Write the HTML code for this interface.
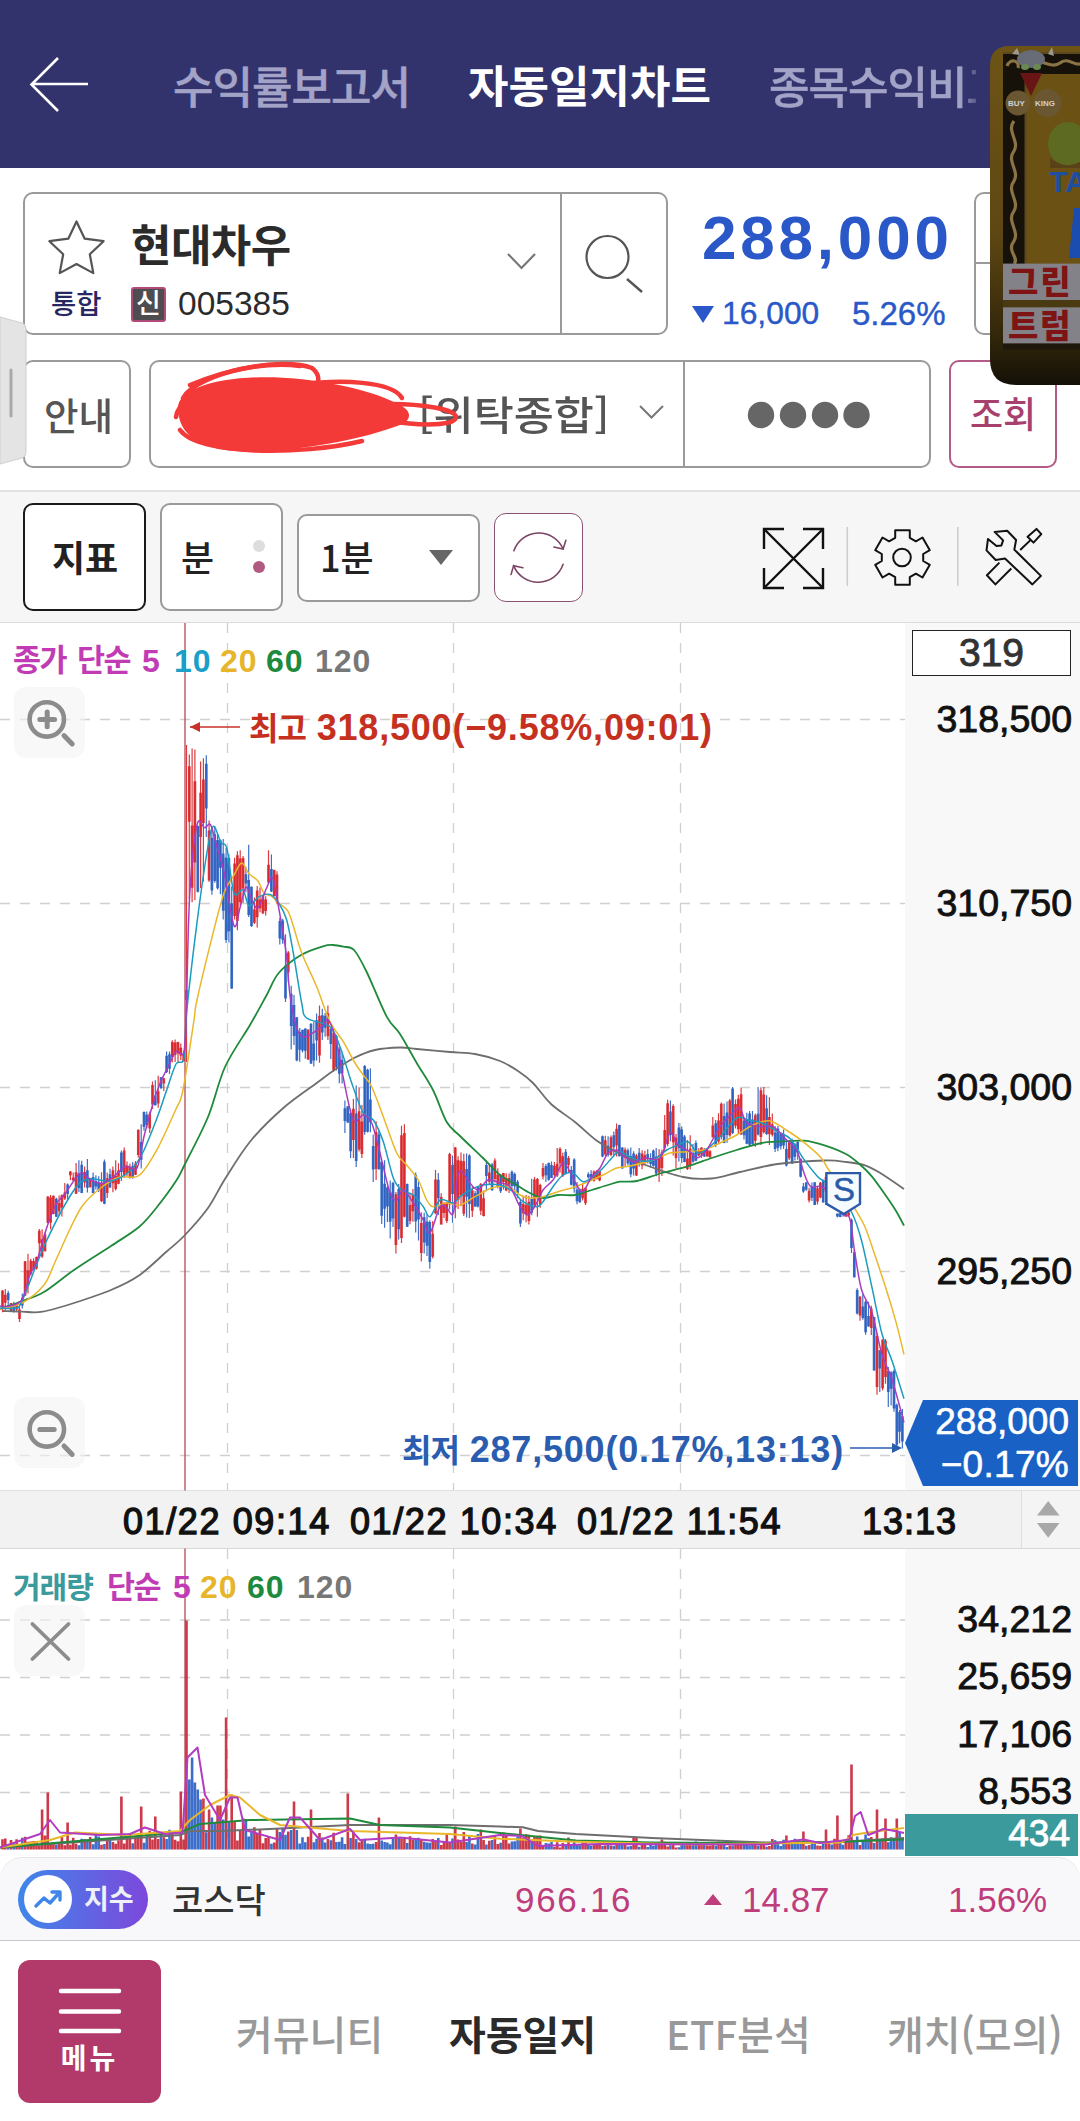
<!DOCTYPE html>
<html lang="ko"><head><meta charset="utf-8">
<style>
*{margin:0;padding:0;box-sizing:border-box}
html,body{width:1080px;height:2121px;overflow:hidden;background:#fff}
body{position:relative;font-family:"Liberation Sans","Noto Sans CJK KR",sans-serif;color:#222}
.a{position:absolute}
.k{font-family:"Noto Sans CJK KR","Liberation Sans",sans-serif}
.t{white-space:nowrap;line-height:1}
#hdr{left:0;top:0;width:1080px;height:168px;background:#32326c}
.box{border:2px solid #9a9a9a;border-radius:10px;background:#fff}
</style></head><body>
<!-- header -->
<div id="hdr" class="a"></div>
<svg class="a" style="left:0;top:0" width="120" height="168"><path d="M88 84H32M58 58L31.5 84.5L58 111" stroke="#fff" stroke-width="2.6" fill="none"/></svg>
<div class="a t k" id="tab1" style="left:173px;top:63px;font-size:44px;letter-spacing:-1px;color:#a3a3c8;font-weight:500;-webkit-text-stroke:0.5px #a3a3c8">수익률보고서</div>
<div class="a t k" id="tab2" style="left:468px;top:62px;font-size:44px;color:#fff;font-weight:700">자동일지차트</div>
<div class="a" style="left:760px;top:50px;width:216px;height:70px;overflow:hidden;-webkit-mask-image:linear-gradient(90deg,#000 200px,rgba(0,0,0,0.35) 216px)"><div class="a t k" id="tab3" style="left:9px;top:13px;font-size:44px;letter-spacing:-1px;color:#a3a3c8;font-weight:500;-webkit-text-stroke:0.5px #a3a3c8">종목수익비교</div></div>

<!-- stock box -->
<div class="a box" style="left:23px;top:192px;width:645px;height:143px"></div>
<div class="a" style="left:560px;top:194px;width:2px;height:139px;background:#9a9a9a"></div>
<!-- star -->
<svg class="a" style="left:40px;top:214px" width="74" height="66"><path d="M36.5 7.5L44.7 24.7L63.6 27.2L49.8 40.3L53.3 59.1L36.5 50.0L19.7 59.1L23.2 40.3L9.4 27.2L28.3 24.7Z" stroke="#555" stroke-width="2.2" fill="none" stroke-linejoin="round"/></svg>
<div class="a t k" style="left:131px;top:221px;font-size:44px;font-weight:700;color:#2b2b2b;letter-spacing:-0.6px">현대차우</div>
<div class="a t k" style="left:51px;top:289px;font-size:27.5px;font-weight:500;color:#272764">통합</div>
<div class="a" style="left:131px;top:287px;width:35px;height:35px;background:#4d4d4f;border:2px solid #b04a78;border-radius:3px"></div>
<div class="a t k" style="left:134px;top:288px;width:29px;text-align:center;font-size:27px;font-weight:500;color:#fff">신</div>
<div class="a t" style="left:178px;top:287px;font-size:33.5px;color:#2b2b2b">005385</div>
<svg class="a" style="left:500px;top:245px" width="44" height="32"><path d="M8 9L21.5 23L35 9" stroke="#777" stroke-width="2.2" fill="none"/></svg>
<svg class="a" style="left:580px;top:230px" width="70" height="70"><circle cx="27.5" cy="27" r="21" stroke="#555" stroke-width="2.2" fill="none"/><path d="M47 49L62 62" stroke="#555" stroke-width="2.4"/></svg>
<div class="a t" id="price" style="left:702px;top:207px;font-size:62px;font-weight:700;color:#2a58c8;letter-spacing:3.8px">288,000</div>
<svg class="a" style="left:690px;top:304px" width="26" height="20"><path d="M2 2H24L13 19Z" fill="#2a58c8"/></svg>
<div class="a t" style="left:722px;top:298px;font-size:31.8px;color:#2a58c8;-webkit-text-stroke:0.4px #2a58c8">16,000</div>
<div class="a t" style="left:852px;top:297px;font-size:33px;color:#2a58c8;-webkit-text-stroke:0.4px #2a58c8">5.26%</div>
<div class="a box" style="left:974px;top:192px;width:60px;height:143px"></div>
<div class="a" style="left:975px;top:262px;width:40px;height:1.5px;background:#9a9a9a"></div>

<!-- row2 -->
<div class="a box" style="left:23px;top:360px;width:108px;height:108px"></div>
<div class="a t k" style="left:44px;top:395px;font-size:37.5px;font-weight:500;color:#555">안내</div>
<div class="a box" style="left:149px;top:360px;width:782px;height:108px"></div>
<div class="a" style="left:683px;top:362px;width:2px;height:104px;background:#9a9a9a"></div>
<div class="a t k" style="left:418px;top:393px;font-size:40px;font-weight:500;color:#555;letter-spacing:0;transform:scaleX(1.09);transform-origin:0 0">[위탁종합]</div>
<svg class="a" style="left:636px;top:400px" width="32" height="24"><path d="M4 6L15.5 17.5L27 6" stroke="#777" stroke-width="2" fill="none"/></svg>
<svg class="a" style="left:745px;top:398px" width="128" height="34"><g fill="#666"><circle cx="16" cy="17" r="13.2"/><circle cx="48" cy="17" r="13.2"/><circle cx="80" cy="17" r="13.2"/><circle cx="111.5" cy="17" r="13.2"/></g></svg>
<div class="a box" style="left:949px;top:360px;width:108px;height:108px;border-color:#b45a86"></div>
<div class="a t k" style="left:970px;top:394px;font-size:36px;font-weight:500;color:#a8406e">조회</div>

<!-- toolbar -->
<div class="a" style="left:0;top:490px;width:1080px;height:2px;background:#e2e2e2"></div>
<div class="a" style="left:0;top:492px;width:1080px;height:130px;background:#f6f6f6"></div>
<div class="a box" style="left:23px;top:503px;width:123px;height:108px;border-color:#1a1a1a"></div>
<div class="a t k" style="left:52px;top:538px;font-size:36px;font-weight:700;color:#222">지표</div>
<div class="a box" style="left:160px;top:503px;width:123px;height:108px"></div>
<div class="a t k" style="left:181px;top:538px;font-size:36px;font-weight:500;color:#222">분</div>
<div class="a" style="left:253px;top:540px;width:12px;height:12px;border-radius:50%;background:#ddd"></div>
<div class="a" style="left:253px;top:561px;width:12px;height:12px;border-radius:50%;background:#b05a82"></div>
<div class="a box" style="left:297px;top:514px;width:183px;height:88px"></div>
<div class="a t k" style="left:320px;top:538px;font-size:36px;font-weight:500;color:#222">1분</div>
<svg class="a" style="left:428px;top:548px" width="26" height="20"><path d="M1 2H25L13 17Z" fill="#666"/></svg>
<div class="a box" style="left:494px;top:513px;width:89px;height:89px;border:1.8px solid #8a5272;border-radius:12px"></div>
<!-- refresh icon -->
<svg class="a" style="left:494px;top:513px" width="89" height="89"><g stroke="#7c4566" stroke-width="1.6" fill="none" stroke-linecap="round"><path d="M19.9 37.8A26.4 26.4 0 0 1 69.1 36"/><path d="M59.9 34L69.1 36L71.9 27.2"/><path d="M69.1 51.3A26.4 26.4 0 0 1 19.6 52.6"/><path d="M28.9 54.8L19.6 52.6L17.1 61.4"/></g></svg>
<!-- toolbar right icons -->
<svg class="a" style="left:755px;top:520px" width="300" height="76"><g stroke="#111" stroke-width="2.4" fill="none">
<path d="M9 29V9H29M48 9H68V29M68 48V68H48M29 68H9V48"/><path d="M9 9L68 68M68 9L9 68"/></g>
<path d="M92.3 7V66M202.8 7V66" stroke="#ccc" stroke-width="1.5"/>
<path id="gear" d="M140.2 17.8L140.2 10.2L154.8 10.2L154.8 17.8L160.9 21.3L167.5 17.5L174.8 30.2L168.2 34.0L168.2 41.0L174.8 44.8L167.5 57.5L160.9 53.7L154.8 57.2L154.8 64.8L140.2 64.8L140.2 57.2L134.1 53.7L127.5 57.5L120.2 44.8L126.8 41.0L126.8 34.0L120.2 30.2L127.5 17.5L134.1 21.3Z" stroke="#111" stroke-width="2" fill="none" stroke-linejoin="round"/>
<circle cx="147" cy="37.5" r="8.8" stroke="#111" stroke-width="2" fill="none"/>
<g stroke="#111" stroke-width="2" fill="none" stroke-linejoin="round"><path d="M239.6 11.9L252.2 10.7L261.1 20L259.3 29.6L285.9 55.9L277.4 64.4L250 38.5L240.7 40L231.5 30.4L233 18.9L241.5 25.9L246.3 25.6L248.1 20.4Z"/><path d="M272.6 16.7L281.5 8.9L286.3 14.1L278.5 22.6ZM275.2 20.4L265.2 30M244.4 42.6L231.9 55.2L240.4 64.4L256.3 48.5"/></g>
</svg>
<!-- chart backgrounds -->
<div class="a" style="left:0;top:622px;width:1080px;height:1px;background:#dcdcdc"></div>
<div class="a" style="left:905px;top:623px;width:175px;height:867px;background:#f8f8f8"></div>
<div class="a" style="left:905px;top:1549px;width:175px;height:307px;background:#f8f8f8"></div>
<div class="a" style="left:0;top:1490px;width:1080px;height:59px;background:#f2f2f2;border-top:1px solid #e0e0e0;border-bottom:1px solid #d8d8d8"></div>
<svg class="a" style="left:0;top:0" width="1080" height="2121" viewBox="0 0 1080 2121">
<defs><clipPath id="cp"><rect x="0" y="623" width="905" height="867"/></clipPath><clipPath id="cv"><rect x="0" y="1549" width="905" height="301"/></clipPath></defs>
<path d="M0 719.5H905M0 903.5H905M0 1087.5H905M0 1271.5H905M0 1455.5H905M227.5 623V1490M227.5 1549V1850M453.5 623V1490M453.5 1549V1850M680.5 623V1490M680.5 1549V1850M0 1620.0H905M0 1677.5H905M0 1735.0H905M0 1792.5H905" stroke="#d0d0d0" stroke-width="1.3" stroke-dasharray="10 10" fill="none"/>
<path d="M185 623V1490.5M185 1548.5V1850" stroke="#b4404a" stroke-width="1.25"/>
<g clip-path="url(#cp)">
<path d="M2.5 1290.2V1312.3M5.3 1289.1V1310.2M11.0 1302.9V1311.8M16.6 1303.1V1311.9M19.5 1305.1V1322.0M25.1 1261.1V1296.0M28.0 1253.7V1293.5M30.8 1258.7V1275.4M33.6 1258.3V1270.1M36.5 1256.5V1269.5M39.3 1229.0V1256.4M42.1 1229.3V1258.0M45.0 1232.5V1251.6M47.8 1196.3V1223.4M50.6 1195.1V1229.3M53.4 1195.4V1214.2M59.1 1195.5V1215.4M61.9 1194.6V1216.6M64.8 1183.1V1199.9M70.4 1171.0V1180.0M73.2 1172.4V1180.8M76.1 1163.0V1194.0M84.6 1166.6V1187.5M90.2 1177.9V1187.5M101.5 1172.2V1201.9M107.2 1172.4V1197.9M112.9 1166.5V1192.2M115.7 1160.2V1190.5M118.5 1163.3V1184.3M124.2 1147.6V1177.9M127.0 1161.6V1176.5M129.9 1163.4V1178.8M135.5 1161.0V1175.0M138.3 1129.4V1157.4M149.7 1111.4V1133.1M152.5 1081.5V1109.0M158.2 1075.8V1107.8M163.8 1077.8V1090.9M172.3 1040.2V1062.3M175.1 1039.5V1062.1M178.0 1041.7V1062.2M180.8 1043.6V1059.9M183.6 1051.2V1061.5M186.5 745.0V1062.0M189.3 754.6V898.9M192.1 748.5V902.3M194.9 749.4V900.0M200.6 761.5V887.9M203.4 758.2V881.8M209.1 820.6V881.7M234.6 857.7V919.4M237.4 851.2V930.2M240.2 850.2V905.9M243.1 856.0V902.9M254.4 897.4V924.1M257.2 886.0V927.6M260.0 887.6V912.3M262.9 895.0V914.1M265.7 896.2V915.6M268.5 850.3V883.3M274.2 869.5V896.3M277.0 871.2V904.2M288.3 950.9V982.1M308.1 1029.4V1059.9M319.5 1005.5V1062.8M327.9 1005.6V1040.0M333.6 1028.6V1071.8M353.4 1099.0V1158.0M359.1 1087.2V1151.6M361.9 1104.9V1157.9M376.1 1121.3V1179.9M395.9 1192.1V1253.4M401.5 1125.7V1243.1M404.4 1124.3V1217.6M410.0 1193.7V1224.2M412.9 1188.9V1221.7M421.3 1212.2V1261.6M432.7 1221.0V1258.4M435.5 1170.0V1214.2M441.2 1193.3V1224.6M444.0 1202.6V1217.9M446.8 1201.9V1223.1M449.6 1152.7V1209.4M455.3 1147.1V1218.3M458.1 1156.3V1208.9M461.0 1152.4V1206.2M463.8 1153.8V1215.9M472.3 1186.5V1216.9M480.8 1183.1V1215.1M483.6 1190.4V1216.5M489.3 1163.7V1184.2M494.9 1158.3V1182.6M497.8 1168.3V1188.6M503.4 1172.9V1189.4M506.2 1173.2V1191.2M509.1 1173.5V1193.0M523.2 1196.1V1220.3M526.1 1195.1V1222.2M528.9 1195.8V1224.4M534.5 1177.0V1207.8M537.4 1178.1V1216.7M540.2 1183.7V1207.8M543.0 1162.9V1179.4M554.4 1162.0V1176.4M557.2 1147.9V1177.1M560.0 1147.3V1172.7M562.8 1152.8V1176.9M568.5 1156.1V1172.4M582.6 1183.8V1200.4M585.5 1187.4V1204.9M594.0 1170.5V1181.7M596.8 1170.1V1179.5M599.6 1170.8V1181.2M605.3 1135.7V1156.0M611.0 1135.4V1156.2M616.6 1123.5V1156.5M625.1 1147.5V1166.6M636.4 1154.0V1176.1M642.1 1150.3V1169.2M644.9 1150.7V1163.9M659.1 1149.0V1181.9M661.9 1149.6V1176.1M664.7 1115.0V1151.6M667.6 1099.7V1146.2M673.2 1104.3V1155.5M676.0 1133.9V1168.3M687.4 1140.1V1170.0M690.2 1135.3V1169.5M698.7 1148.2V1156.0M701.5 1147.3V1157.9M707.2 1148.0V1156.7M710.0 1150.1V1157.9M712.8 1116.9V1137.4M718.5 1113.2V1143.7M721.3 1102.5V1139.6M729.8 1099.1V1136.8M735.5 1099.4V1128.4M738.3 1094.8V1133.8M741.1 1087.9V1134.9M755.3 1113.6V1146.7M760.9 1087.7V1145.0M763.8 1087.1V1133.5M769.4 1097.2V1145.0M772.3 1113.4V1136.6M789.2 1140.3V1159.9M809.1 1187.7V1202.6M817.5 1186.7V1204.6M820.4 1182.0V1198.2M826.0 1174.1V1204.9M828.9 1176.8V1197.3M834.5 1177.7V1196.1M845.8 1212.8V1216.8M848.7 1212.2V1216.9M860.0 1295.9V1320.7M871.3 1305.7V1335.1M877.0 1332.9V1394.7M882.6 1339.2V1390.5M885.5 1339.1V1383.7" stroke="#d8262a" stroke-width="1.2" fill="none" opacity="0.9"/>
<path d="M2.5 1290.5V1307.6M5.3 1294.8V1302.7M11.0 1302.9V1311.7M16.6 1303.3V1309.5M19.5 1309.5V1318.9M25.1 1261.2V1295.6M28.0 1270.3V1285.3M30.8 1260.7V1274.1M33.6 1261.0V1268.7M36.5 1256.9V1268.5M39.3 1230.8V1243.3M42.1 1239.2V1256.6M45.0 1234.4V1251.3M47.8 1196.4V1222.8M50.6 1197.5V1222.6M53.4 1195.8V1214.0M59.1 1202.9V1211.2M61.9 1195.1V1207.7M64.8 1192.4V1198.6M70.4 1171.5V1175.2M73.2 1177.5V1180.6M76.1 1172.3V1193.8M84.6 1172.1V1182.4M90.2 1178.0V1187.3M101.5 1183.1V1201.3M107.2 1178.3V1193.1M112.9 1170.2V1183.3M115.7 1175.7V1188.9M118.5 1170.6V1183.7M124.2 1150.6V1175.5M127.0 1166.4V1172.7M129.9 1166.7V1177.7M135.5 1163.4V1174.7M138.3 1129.8V1154.9M149.7 1113.7V1128.6M152.5 1085.0V1104.5M158.2 1091.3V1103.4M163.8 1078.2V1083.6M172.3 1041.9V1057.2M175.1 1042.5V1055.0M178.0 1041.9V1053.6M180.8 1047.7V1055.4M183.6 1054.0V1060.9M186.5 990.0V1000.0M189.3 766.2V821.7M192.1 825.5V887.8M194.9 781.2V862.6M200.6 792.8V837.1M203.4 779.4V823.0M209.1 830.5V880.4M234.6 863.4V915.9M237.4 855.2V921.0M240.2 858.4V902.2M243.1 858.0V888.6M254.4 909.4V922.8M257.2 890.5V917.2M260.0 899.6V908.3M262.9 895.4V913.2M265.7 899.6V911.0M268.5 864.7V882.4M274.2 870.0V895.9M277.0 874.6V902.3M288.3 952.5V972.5M308.1 1029.5V1059.5M319.5 1015.8V1055.4M327.9 1013.2V1036.3M333.6 1032.8V1070.3M353.4 1108.7V1140.1M359.1 1111.3V1149.4M361.9 1121.4V1154.1M376.1 1132.0V1168.9M395.9 1194.2V1245.0M401.5 1135.2V1238.0M404.4 1133.1V1216.7M410.0 1205.1V1221.0M412.9 1195.1V1211.2M421.3 1222.9V1252.9M432.7 1233.8V1256.7M435.5 1179.4V1213.3M441.2 1197.1V1224.5M444.0 1202.8V1213.0M446.8 1202.3V1221.1M449.6 1153.9V1204.3M455.3 1147.6V1207.5M458.1 1160.2V1200.1M461.0 1160.8V1195.3M463.8 1161.2V1213.8M472.3 1190.2V1210.8M480.8 1183.9V1210.8M483.6 1198.2V1215.9M489.3 1172.4V1181.8M494.9 1160.6V1179.1M497.8 1174.8V1186.7M503.4 1172.9V1182.1M506.2 1178.3V1190.6M509.1 1178.0V1184.8M523.2 1204.1V1213.3M526.1 1204.7V1214.4M528.9 1201.7V1221.1M534.5 1179.4V1205.1M537.4 1178.9V1198.2M540.2 1184.9V1204.5M543.0 1168.0V1176.6M554.4 1165.8V1174.9M557.2 1163.8V1175.5M560.0 1148.8V1163.4M562.8 1156.3V1175.7M568.5 1158.0V1164.9M582.6 1188.8V1198.3M585.5 1187.8V1203.2M594.0 1171.6V1180.6M596.8 1171.5V1179.1M599.6 1170.9V1180.5M605.3 1140.3V1154.5M611.0 1137.2V1154.9M616.6 1128.8V1145.6M625.1 1149.8V1157.8M636.4 1155.4V1175.4M642.1 1153.5V1165.4M644.9 1155.3V1161.4M659.1 1155.2V1172.6M661.9 1152.6V1167.9M664.7 1129.9V1148.0M667.6 1103.3V1144.1M673.2 1106.1V1142.3M676.0 1137.4V1157.9M687.4 1158.4V1169.1M690.2 1148.5V1165.7M698.7 1150.7V1155.6M701.5 1147.5V1154.6M707.2 1149.6V1156.4M710.0 1151.3V1157.3M712.8 1125.6V1137.2M718.5 1120.4V1141.6M721.3 1103.7V1136.7M729.8 1100.6V1135.5M735.5 1103.9V1125.7M738.3 1098.7V1129.2M741.1 1094.2V1134.3M755.3 1115.2V1140.7M760.9 1090.2V1137.0M763.8 1094.5V1132.2M769.4 1117.1V1134.3M772.3 1124.2V1134.8M789.2 1141.0V1158.2M809.1 1190.7V1200.5M817.5 1188.3V1201.6M820.4 1182.7V1197.5M826.0 1177.0V1191.8M828.9 1183.6V1196.9M834.5 1179.3V1193.7M845.8 1213.6V1216.6M848.7 1212.4V1215.6M860.0 1296.8V1315.6M871.3 1308.5V1328.0M877.0 1336.1V1387.0M882.6 1339.8V1388.2M885.5 1340.7V1377.0" stroke="#d8262a" stroke-width="2.7" fill="none" opacity="0.9"/>
<path d="M8.2 1290.8V1307.4M13.8 1301.7V1312.5M22.3 1293.5V1308.5M56.3 1197.7V1216.9M67.6 1183.6V1200.0M78.9 1160.2V1191.9M81.7 1160.8V1193.0M87.4 1159.0V1192.6M93.1 1172.5V1193.5M95.9 1175.3V1189.4M98.7 1176.2V1192.0M104.4 1159.5V1204.3M110.0 1168.7V1187.9M121.4 1150.6V1181.0M132.7 1162.0V1178.8M141.2 1124.2V1168.6M144.0 1111.4V1130.8M146.8 1111.6V1128.3M155.3 1080.2V1105.6M161.0 1076.9V1089.2M166.6 1051.6V1073.0M169.5 1051.6V1074.0M197.8 825.5V892.4M206.3 755.2V836.9M211.9 830.2V894.7M214.8 826.2V882.8M217.6 834.2V889.6M220.4 839.4V894.3M223.2 838.9V919.4M226.1 848.0V943.0M228.9 854.2V942.6M231.7 886.4V988.9M245.9 866.8V892.3M248.7 844.8V917.0M251.5 886.6V927.1M271.4 854.4V892.1M279.8 917.8V944.6M282.7 918.7V943.7M285.5 934.2V1001.9M291.2 985.7V1049.6M294.0 994.9V1045.0M296.8 1017.2V1061.2M299.7 1027.9V1061.8M302.5 1029.8V1052.4M305.3 1028.6V1058.8M311.0 1022.9V1063.9M313.8 1021.8V1066.5M316.6 1013.6V1060.4M322.3 1008.8V1040.0M325.1 1012.9V1036.7M330.8 1028.3V1059.0M336.4 1035.1V1070.5M339.3 1047.3V1083.3M342.1 1053.3V1083.4M344.9 1100.4V1132.9M347.8 1106.0V1123.1M350.6 1109.3V1157.9M356.2 1085.4V1167.1M364.7 1065.1V1134.8M367.6 1068.7V1132.4M370.4 1068.3V1132.3M373.2 1134.8V1181.9M378.9 1130.7V1170.0M381.7 1161.4V1223.9M384.6 1160.2V1227.7M387.4 1186.2V1222.1M390.2 1180.5V1238.5M393.0 1181.7V1227.1M398.7 1184.1V1239.5M407.2 1183.4V1227.1M415.7 1172.4V1232.5M418.5 1181.6V1240.5M424.2 1212.8V1253.6M427.0 1214.3V1256.0M429.8 1220.2V1268.8M438.3 1173.1V1215.0M452.5 1155.5V1222.8M466.6 1153.4V1217.4M469.4 1154.3V1217.9M475.1 1191.0V1206.9M477.9 1186.3V1207.5M486.4 1161.5V1191.3M492.1 1163.1V1191.0M500.6 1174.3V1192.9M511.9 1170.6V1190.1M514.7 1172.4V1196.1M517.6 1179.9V1198.3M520.4 1199.1V1227.1M531.7 1178.8V1215.2M545.9 1163.9V1182.0M548.7 1162.5V1180.8M551.5 1161.4V1178.0M565.7 1149.1V1174.4M571.3 1166.1V1185.5M574.2 1158.3V1192.7M577.0 1182.0V1204.2M579.8 1188.5V1202.7M588.3 1172.3V1178.5M591.1 1170.2V1180.8M602.5 1135.6V1157.2M608.1 1136.3V1156.8M613.8 1131.4V1156.0M619.4 1124.7V1156.3M622.3 1147.2V1168.5M627.9 1148.6V1165.3M630.8 1147.5V1177.3M633.6 1151.3V1175.4M639.2 1148.1V1166.7M647.7 1149.2V1163.4M650.6 1153.3V1167.6M653.4 1149.4V1166.6M656.2 1147.9V1176.3M670.4 1100.6V1141.3M678.9 1123.0V1161.6M681.7 1126.6V1163.1M684.5 1135.1V1162.2M693.0 1143.9V1162.8M695.9 1140.5V1161.2M704.3 1148.1V1156.9M715.7 1120.1V1147.0M724.1 1103.6V1143.3M727.0 1101.4V1142.8M732.6 1087.0V1134.0M744.0 1118.9V1139.6M746.8 1112.7V1144.2M749.6 1111.1V1146.6M752.5 1111.0V1144.6M758.1 1087.0V1135.5M766.6 1095.3V1135.0M775.1 1125.9V1152.0M777.9 1125.9V1151.2M780.8 1132.8V1149.5M783.6 1129.5V1148.9M786.4 1140.3V1166.5M792.1 1138.4V1163.9M794.9 1142.9V1160.4M797.7 1141.2V1159.7M800.6 1158.6V1177.5M803.4 1183.0V1192.7M806.2 1182.1V1190.7M811.9 1182.4V1201.1M814.7 1182.3V1205.0M823.2 1179.4V1202.5M831.7 1177.2V1202.8M837.4 1213.4V1217.4M840.2 1213.3V1217.3M843.0 1212.7V1216.7M851.5 1218.6V1253.0M854.3 1250.0V1277.5M857.2 1288.3V1314.4M862.8 1294.3V1319.8M865.6 1300.6V1334.7M868.5 1301.7V1326.8M874.1 1316.9V1370.5M879.8 1350.1V1391.9M888.3 1367.0V1406.9M891.1 1371.2V1405.4M894.0 1369.3V1411.8M896.8 1403.5V1446.0M899.6 1409.9V1443.2M902.4 1409.0V1448.4" stroke="#2a5fc0" stroke-width="1.2" fill="none" opacity="0.9"/>
<path d="M8.2 1292.9V1300.0M13.8 1305.6V1311.6M22.3 1297.7V1305.4M56.3 1198.7V1216.7M67.6 1184.4V1194.1M78.9 1173.5V1188.0M81.7 1164.7V1193.0M87.4 1170.2V1187.7M93.1 1177.1V1193.0M95.9 1180.9V1186.5M98.7 1182.8V1190.2M104.4 1161.7V1203.8M110.0 1174.2V1187.5M121.4 1152.6V1172.0M132.7 1165.7V1177.1M141.2 1142.1V1159.7M144.0 1112.0V1127.1M146.8 1114.8V1125.0M155.3 1095.4V1105.3M161.0 1077.3V1088.1M166.6 1055.7V1072.0M169.5 1054.3V1068.8M197.8 826.1V891.8M206.3 763.8V808.6M211.9 837.7V890.5M214.8 834.2V880.9M217.6 840.0V888.3M220.4 840.2V867.7M223.2 853.4V910.8M226.1 857.4V939.9M228.9 858.0V931.3M231.7 903.3V988.5M245.9 874.3V883.5M248.7 879.9V915.0M251.5 886.8V926.0M271.4 869.1V891.4M279.8 921.0V938.6M282.7 920.4V939.8M285.5 965.8V998.6M291.2 993.8V1026.1M294.0 1004.9V1036.0M296.8 1017.3V1060.4M299.7 1031.9V1049.7M302.5 1029.8V1050.6M305.3 1028.6V1050.7M311.0 1024.1V1063.5M313.8 1043.6V1060.4M316.6 1020.3V1040.6M322.3 1015.3V1032.4M325.1 1015.8V1027.8M330.8 1028.8V1044.1M336.4 1036.1V1067.4M339.3 1049.5V1073.7M342.1 1059.9V1073.3M344.9 1108.2V1120.9M347.8 1106.3V1122.6M350.6 1113.3V1151.3M356.2 1113.5V1161.0M364.7 1066.0V1132.1M367.6 1069.8V1131.7M370.4 1099.6V1122.2M373.2 1145.9V1169.6M378.9 1134.2V1169.0M381.7 1162.1V1215.7M384.6 1183.7V1208.8M387.4 1187.6V1206.4M390.2 1192.6V1221.7M393.0 1182.9V1218.4M398.7 1189.1V1229.3M407.2 1183.9V1226.7M415.7 1175.2V1221.6M418.5 1187.0V1219.6M424.2 1217.3V1242.4M427.0 1221.6V1245.8M429.8 1221.9V1262.0M438.3 1179.7V1198.3M452.5 1165.0V1193.9M466.6 1169.0V1196.8M469.4 1155.5V1204.1M475.1 1193.2V1206.4M477.9 1186.5V1206.5M486.4 1164.9V1176.1M492.1 1164.4V1189.9M500.6 1174.8V1191.3M511.9 1171.7V1186.0M514.7 1174.1V1186.2M517.6 1181.8V1193.1M520.4 1201.9V1223.5M531.7 1198.9V1212.8M545.9 1165.9V1175.3M548.7 1163.0V1179.8M551.5 1165.0V1177.9M565.7 1151.7V1174.1M571.3 1169.9V1184.7M574.2 1159.4V1188.4M577.0 1189.4V1201.3M579.8 1189.4V1202.2M588.3 1174.3V1177.3M591.1 1174.0V1180.1M602.5 1136.2V1156.5M608.1 1145.8V1155.1M613.8 1135.3V1147.0M619.4 1125.1V1156.2M622.3 1147.4V1168.5M627.9 1150.2V1163.6M630.8 1156.0V1174.3M633.6 1153.4V1168.4M639.2 1152.7V1160.4M647.7 1154.0V1159.3M650.6 1158.1V1164.0M653.4 1150.4V1165.7M656.2 1156.4V1173.6M670.4 1111.6V1135.1M678.9 1127.4V1148.0M681.7 1129.6V1158.0M684.5 1136.4V1161.9M693.0 1153.0V1161.7M695.9 1142.9V1160.8M704.3 1150.3V1156.6M715.7 1123.2V1145.1M724.1 1116.0V1143.0M727.0 1112.4V1135.0M732.6 1088.5V1133.1M744.0 1120.4V1135.3M746.8 1119.6V1143.7M749.6 1113.6V1144.8M752.5 1119.4V1144.1M758.1 1113.8V1134.6M766.6 1108.3V1134.0M775.1 1132.4V1149.0M777.9 1128.4V1147.7M780.8 1134.1V1146.2M783.6 1134.6V1145.6M786.4 1148.9V1165.4M792.1 1141.1V1163.6M794.9 1144.2V1156.8M797.7 1141.9V1152.5M800.6 1158.7V1176.8M803.4 1186.5V1191.6M806.2 1182.4V1189.7M811.9 1186.8V1197.7M814.7 1182.3V1204.9M823.2 1180.1V1202.4M831.7 1191.3V1202.2M837.4 1213.5V1216.5M840.2 1213.3V1216.9M843.0 1211.6V1214.6M851.5 1219.8V1247.9M854.3 1252.2V1277.2M857.2 1289.9V1313.4M862.8 1306.6V1318.0M865.6 1301.7V1332.3M868.5 1315.9V1326.5M874.1 1317.0V1370.5M879.8 1350.2V1368.6M888.3 1370.9V1392.0M891.1 1372.3V1388.8M894.0 1371.0V1408.4M896.8 1404.7V1444.7M899.6 1412.1V1431.7M902.4 1416.3V1441.5" stroke="#2a5fc0" stroke-width="2.7" fill="none" opacity="0.9"/>
<path d="M3.0 1311.0C6.0 1311.1 15.7 1311.6 22.0 1311.7C28.3 1311.8 34.3 1313.1 42.6 1311.7C50.9 1310.3 63.1 1306.5 74.0 1303.0C84.9 1299.5 100.6 1294.4 111.0 1290.0C121.4 1285.6 130.1 1281.7 139.0 1275.5C147.9 1269.3 159.3 1258.0 166.7 1251.5C174.1 1245.0 178.4 1242.0 185.0 1235.0C191.6 1228.0 201.6 1217.0 208.0 1208.0C214.4 1199.0 218.3 1189.6 225.0 1179.0C231.7 1168.4 240.7 1153.1 250.0 1141.7C259.3 1130.3 272.6 1117.4 283.3 1108.0C294.0 1098.6 308.7 1088.9 316.7 1083.0C324.7 1077.1 327.0 1075.0 333.0 1071.0C339.0 1067.0 347.3 1061.4 354.0 1058.0C360.7 1054.6 367.6 1051.7 375.0 1050.0C382.4 1048.3 393.3 1047.7 400.0 1047.5C406.7 1047.3 408.7 1048.3 416.7 1049.0C424.7 1049.7 440.7 1051.2 450.0 1052.0C459.3 1052.8 467.0 1052.6 475.0 1054.0C483.0 1055.4 493.1 1058.3 500.0 1061.0C506.9 1063.7 512.7 1067.5 518.0 1071.0C523.3 1074.5 527.7 1077.7 533.0 1083.0C538.3 1088.3 544.3 1097.8 551.0 1104.0C557.7 1110.2 567.5 1116.0 575.0 1122.0C582.5 1128.0 590.8 1136.5 598.0 1141.6C605.2 1146.7 612.4 1150.3 620.0 1154.0C627.6 1157.7 635.4 1161.3 645.5 1165.0C655.6 1168.7 672.4 1174.8 683.0 1177.0C693.6 1179.2 702.5 1179.3 711.6 1178.5C720.7 1177.7 729.4 1174.3 740.0 1172.0C750.6 1169.7 764.1 1165.8 777.7 1164.0C791.3 1162.2 814.0 1160.8 825.0 1160.5C836.0 1160.2 840.0 1161.2 846.4 1162.0C852.8 1162.8 859.6 1163.5 865.0 1165.3C870.4 1167.1 874.1 1169.2 880.3 1173.0C886.5 1176.8 900.2 1186.4 904.0 1189.0" stroke="#6e6e6e" stroke-width="1.8" fill="none" stroke-linejoin="round"/>
<path d="M0.0 1309.0C3.5 1307.7 15.0 1303.7 22.0 1301.0C29.0 1298.3 35.7 1297.0 44.0 1292.0C52.3 1287.0 63.3 1277.4 74.0 1270.0C84.7 1262.6 100.6 1252.9 111.0 1246.0C121.4 1239.1 131.6 1233.2 139.0 1227.0C146.4 1220.8 151.1 1214.4 157.0 1207.0C162.9 1199.6 171.5 1187.9 176.0 1181.0C180.5 1174.1 179.9 1174.2 185.0 1164.0C190.1 1153.8 201.6 1132.5 208.0 1117.0C214.4 1101.5 218.3 1081.7 225.0 1067.0C231.7 1052.3 243.3 1036.5 250.0 1025.0C256.7 1013.5 262.1 1003.3 266.7 995.0C271.3 986.7 273.2 979.4 278.7 973.0C284.2 966.6 293.9 959.3 301.0 955.0C308.1 950.7 317.9 947.9 323.0 946.3C328.1 944.7 329.8 944.9 333.0 945.0C336.2 945.1 339.9 945.9 343.3 946.7C346.7 947.5 350.3 946.0 354.0 950.0C357.7 954.0 361.5 961.3 366.7 972.0C371.9 982.7 381.4 1006.8 386.7 1016.7C392.0 1026.6 395.2 1026.6 400.0 1034.0C404.8 1041.4 411.4 1054.0 416.7 1063.0C422.0 1072.0 428.2 1080.6 433.0 1090.0C437.8 1099.4 442.4 1114.6 446.7 1122.0C451.0 1129.4 454.2 1130.2 460.0 1136.0C465.8 1141.8 476.6 1151.8 483.0 1158.0C489.4 1164.2 494.6 1170.7 500.0 1175.0C505.4 1179.3 511.9 1182.1 516.7 1185.0C521.5 1187.9 525.8 1190.9 530.0 1193.0C534.2 1195.1 538.5 1197.7 543.0 1198.0C547.5 1198.3 552.9 1195.5 558.0 1195.0C563.1 1194.5 569.6 1195.8 575.0 1195.0C580.4 1194.2 586.4 1191.6 591.7 1190.0C597.0 1188.4 603.5 1186.3 608.0 1185.0C612.5 1183.7 615.4 1182.3 620.0 1181.7C624.6 1181.1 630.0 1182.4 636.7 1181.0C643.4 1179.6 653.7 1175.3 661.7 1173.0C669.7 1170.7 678.7 1169.1 686.7 1166.7C694.7 1164.3 703.7 1160.7 711.7 1158.0C719.7 1155.3 728.7 1152.4 736.7 1150.0C744.7 1147.6 755.1 1144.3 761.7 1143.0C768.3 1141.7 771.2 1142.1 778.0 1141.7C784.8 1141.3 796.3 1140.0 804.0 1140.7C811.7 1141.4 819.2 1143.6 826.0 1145.8C832.8 1148.0 841.0 1151.3 846.4 1154.3C851.8 1157.3 855.9 1161.0 860.0 1164.5C864.1 1168.0 867.7 1171.5 871.8 1176.4C875.9 1181.3 881.6 1189.6 885.4 1195.0C889.2 1200.4 892.6 1205.4 895.6 1210.3C898.6 1215.2 902.7 1223.2 904.0 1225.6" stroke="#1f8a3c" stroke-width="1.8" fill="none" stroke-linejoin="round"/>
<path d="M0.0 1309.0C3.5 1308.0 15.0 1306.8 22.0 1303.0C29.0 1299.2 38.6 1291.7 44.0 1285.0C49.4 1278.3 51.3 1270.0 55.5 1261.0C59.7 1252.0 65.6 1238.0 70.0 1229.0C74.4 1220.0 77.9 1211.7 83.0 1205.0C88.1 1198.3 96.1 1191.5 102.0 1187.0C107.9 1182.5 114.1 1178.8 120.0 1177.0C125.9 1175.2 133.1 1179.9 139.0 1175.5C144.9 1171.1 151.1 1160.2 157.0 1149.6C162.9 1139.0 171.8 1118.5 176.0 1109.0C180.2 1099.5 180.1 1104.2 183.0 1090.0C185.9 1075.8 191.8 1034.4 194.0 1020.0C196.2 1005.6 194.1 1013.2 197.0 1000.0C199.9 986.8 207.7 954.5 212.0 937.4C216.3 920.3 220.5 903.0 224.0 893.0C227.5 883.0 231.2 879.8 234.0 875.0C236.8 870.2 239.3 863.2 241.7 863.0C244.1 862.8 246.4 870.8 249.0 873.7C251.6 876.6 255.6 877.9 258.0 881.0C260.4 884.1 261.8 890.6 263.9 893.0C266.0 895.4 268.6 894.4 271.0 896.0C273.4 897.6 276.0 900.6 278.7 903.0C281.4 905.4 285.3 907.2 287.6 910.7C289.9 914.2 290.7 918.2 293.0 925.0C295.3 931.8 297.9 943.1 301.7 953.0C305.5 962.9 312.2 975.7 316.7 986.7C321.2 997.7 325.7 1012.9 330.0 1021.7C334.3 1030.5 339.3 1035.1 343.3 1041.7C347.3 1048.3 351.8 1057.7 355.0 1063.0C358.2 1068.3 360.6 1071.2 363.3 1075.0C366.0 1078.8 368.5 1080.0 371.7 1086.7C374.9 1093.4 379.3 1106.1 383.3 1116.7C387.3 1127.3 393.0 1145.3 396.7 1153.0C400.4 1160.7 403.2 1160.7 406.7 1165.0C410.2 1169.3 415.1 1174.4 418.3 1180.0C421.5 1185.6 424.3 1195.7 426.7 1200.0C429.1 1204.3 430.1 1206.2 433.3 1206.7C436.5 1207.2 442.4 1203.3 446.7 1203.0C451.0 1202.7 455.5 1206.0 460.0 1205.0C464.5 1204.0 469.9 1199.4 475.0 1196.7C480.1 1194.0 486.4 1189.6 491.7 1188.0C497.0 1186.4 503.5 1185.6 508.0 1186.7C512.5 1187.8 516.5 1193.2 520.0 1195.0C523.5 1196.8 526.3 1197.7 530.0 1198.0C533.7 1198.3 538.5 1197.7 543.0 1196.7C547.5 1195.7 552.9 1193.3 558.0 1191.7C563.1 1190.1 570.2 1188.3 575.0 1186.7C579.8 1185.1 583.5 1183.6 588.0 1181.7C592.5 1179.8 598.4 1177.2 603.0 1175.0C607.6 1172.8 612.4 1169.4 616.7 1168.0C621.0 1166.6 624.2 1167.3 630.0 1166.0C635.8 1164.7 646.6 1162.1 653.0 1160.0C659.4 1157.9 664.6 1154.3 670.0 1153.0C675.4 1151.7 681.4 1152.2 686.7 1151.7C692.0 1151.2 697.7 1151.4 703.0 1150.0C708.3 1148.6 714.6 1145.4 720.0 1143.0C725.4 1140.6 731.4 1137.9 736.7 1135.0C742.0 1132.1 747.7 1127.2 753.0 1125.0C758.3 1122.8 764.6 1120.1 770.0 1121.0C775.4 1121.9 781.6 1127.1 787.0 1130.5C792.4 1133.9 798.6 1138.0 804.0 1142.4C809.4 1146.8 816.9 1153.1 821.0 1157.7C825.1 1162.3 824.0 1162.9 829.4 1171.0C834.8 1179.1 849.1 1199.6 854.8 1208.6C860.5 1217.6 861.7 1219.4 865.0 1227.0C868.3 1234.6 871.9 1246.4 875.2 1256.0C878.5 1265.6 882.1 1276.4 885.4 1286.7C888.7 1297.0 892.6 1309.8 895.6 1320.6C898.6 1331.4 902.7 1349.1 904.0 1354.5" stroke="#e9b82a" stroke-width="1.5" fill="none" stroke-linejoin="round"/>
<path d="M0.0 1308.0C2.4 1308.0 11.5 1309.1 15.0 1308.0C18.5 1306.9 17.0 1311.6 22.0 1301.0C27.0 1290.4 37.7 1259.8 46.0 1242.0C54.3 1224.2 67.1 1200.1 74.0 1190.0C80.9 1179.9 83.1 1180.4 89.0 1179.0C94.9 1177.6 104.4 1182.3 111.0 1181.0C117.6 1179.7 124.9 1175.5 130.0 1171.0C135.1 1166.5 138.3 1161.5 142.6 1153.0C146.9 1144.5 153.1 1128.1 157.0 1118.0C160.9 1107.9 163.7 1098.6 166.7 1090.0C169.7 1081.4 173.2 1069.1 176.0 1064.0C178.8 1058.9 182.3 1066.6 184.0 1058.0C185.7 1049.4 184.8 1031.7 186.9 1010.0C189.0 988.3 193.7 948.4 197.0 922.6C200.3 896.8 205.0 863.9 207.6 848.5C210.2 833.1 211.4 827.2 213.5 826.3C215.6 825.4 218.9 839.0 221.0 842.6C223.1 846.2 224.8 840.4 226.9 848.5C229.0 856.6 231.4 886.4 234.0 893.0C236.6 899.6 240.6 887.9 243.0 890.0C245.4 892.1 246.6 904.8 249.0 906.0C251.4 907.2 254.7 899.3 258.0 897.4C261.3 895.5 266.5 893.5 269.8 894.4C273.1 895.3 276.0 898.9 278.7 903.0C281.4 907.1 284.4 912.0 286.7 920.0C289.0 928.0 290.9 939.7 293.3 953.0C295.7 966.3 299.6 992.6 301.7 1003.0C303.8 1013.4 302.2 1014.2 306.7 1018.0C311.2 1021.8 324.7 1022.1 330.0 1026.7C335.3 1031.3 336.5 1037.7 340.0 1046.7C343.5 1055.7 348.0 1072.4 351.7 1083.0C355.4 1093.6 359.8 1107.1 363.3 1113.0C366.8 1118.9 370.1 1115.4 373.3 1120.0C376.5 1124.6 380.1 1132.4 383.3 1141.7C386.5 1151.0 390.4 1170.3 393.3 1178.0C396.2 1185.7 398.5 1187.3 401.7 1190.0C404.9 1192.7 409.8 1192.3 413.3 1195.0C416.8 1197.7 420.6 1203.2 423.3 1206.7C426.0 1210.2 427.3 1217.8 430.0 1216.7C432.7 1215.6 436.3 1202.2 440.0 1200.0C443.7 1197.8 450.1 1203.5 453.3 1203.0C456.5 1202.5 457.3 1198.8 460.0 1196.7C462.7 1194.6 466.3 1191.9 470.0 1190.0C473.7 1188.1 478.2 1185.8 483.0 1185.0C487.8 1184.2 495.2 1183.9 500.0 1185.0C504.8 1186.1 509.3 1189.0 513.0 1191.7C516.7 1194.4 519.2 1199.3 523.0 1201.7C526.8 1204.1 533.5 1206.7 536.7 1206.7C539.9 1206.7 540.4 1204.9 543.0 1201.7C545.6 1198.5 549.8 1191.0 553.0 1186.7C556.2 1182.4 559.8 1177.2 563.0 1175.0C566.2 1172.8 569.8 1171.9 573.0 1173.0C576.2 1174.1 579.8 1181.1 583.0 1181.7C586.2 1182.3 589.8 1178.9 593.0 1176.7C596.2 1174.5 599.8 1171.2 603.0 1168.0C606.2 1164.8 610.3 1159.3 613.0 1156.7C615.7 1154.1 616.2 1151.2 620.0 1151.7C623.8 1152.2 631.4 1158.7 636.7 1160.0C642.0 1161.3 648.2 1161.6 653.0 1160.0C657.8 1158.4 662.7 1152.4 666.7 1150.0C670.7 1147.6 674.6 1146.3 678.0 1145.0C681.4 1143.7 684.8 1140.4 688.0 1141.7C691.2 1143.0 694.8 1152.0 698.0 1153.0C701.2 1154.0 704.5 1150.6 708.0 1148.0C711.5 1145.4 715.4 1141.5 720.0 1136.7C724.6 1131.9 732.2 1120.7 736.7 1118.0C741.2 1115.3 744.0 1119.2 748.0 1120.0C752.0 1120.8 756.9 1121.1 761.7 1123.0C766.5 1124.9 773.4 1129.1 778.0 1131.7C782.6 1134.3 786.2 1134.6 790.4 1139.0C794.6 1143.4 799.7 1153.4 804.0 1159.4C808.3 1165.4 814.0 1172.6 817.5 1176.4C821.0 1180.2 822.4 1179.5 826.0 1183.0C829.6 1186.5 835.9 1193.4 840.0 1198.0C844.1 1202.6 848.0 1205.2 851.5 1212.0C855.0 1218.8 858.4 1228.8 861.6 1240.8C864.8 1252.8 868.5 1271.8 871.8 1286.7C875.1 1301.6 878.7 1322.1 882.0 1334.0C885.3 1345.9 888.7 1350.9 892.2 1361.3C895.7 1371.7 902.1 1392.7 904.0 1398.7" stroke="#1b9cc0" stroke-width="1.5" fill="none" stroke-linejoin="round"/>
<path d="M0.0 1306.0C1.6 1306.0 6.5 1307.0 10.0 1306.0C13.5 1305.0 18.9 1304.5 22.0 1299.6C25.1 1294.7 27.2 1281.8 29.6 1275.6C32.0 1269.4 34.3 1268.2 37.0 1260.7C39.7 1253.2 43.3 1237.9 46.3 1229.0C49.3 1220.1 52.6 1210.6 55.6 1205.0C58.6 1199.4 61.2 1198.7 64.8 1194.0C68.4 1189.3 74.8 1178.8 77.8 1175.6C80.8 1172.4 80.9 1172.8 83.3 1173.7C85.7 1174.6 89.3 1179.5 92.6 1181.0C95.9 1182.5 100.1 1183.9 103.7 1183.0C107.3 1182.1 111.2 1178.3 114.8 1175.6C118.4 1172.9 122.4 1167.2 126.0 1166.0C129.6 1164.8 134.1 1173.0 137.0 1168.0C139.9 1163.0 141.7 1145.4 144.4 1134.8C147.1 1124.2 151.0 1110.1 153.7 1101.5C156.4 1092.9 158.6 1086.7 161.0 1081.0C163.4 1075.3 166.1 1070.7 168.5 1066.0C170.9 1061.3 173.5 1053.8 176.0 1051.5C178.5 1049.2 182.3 1059.7 184.0 1051.5C185.7 1043.3 185.6 1025.4 186.5 1000.0C187.4 974.6 188.1 921.0 189.8 893.0C191.5 865.0 194.6 835.2 197.0 824.8C199.4 814.4 202.4 827.8 204.6 827.8C206.8 827.8 208.7 822.0 210.6 824.8C212.5 827.6 214.4 838.0 216.5 845.6C218.6 853.2 221.2 859.2 224.0 872.0C226.8 884.8 231.4 919.9 234.0 925.6C236.6 931.3 238.1 914.0 240.0 907.8C241.9 901.6 244.1 888.2 246.0 887.0C247.9 885.8 250.1 896.7 252.0 900.0C253.9 903.3 255.6 909.9 258.0 907.8C260.4 905.7 264.6 891.8 267.0 887.0C269.4 882.2 270.9 874.7 272.8 878.0C274.7 881.3 276.6 896.0 278.7 907.8C280.8 919.6 284.2 938.0 286.0 952.0C287.8 966.0 288.3 982.8 290.0 995.0C291.7 1007.2 294.3 1021.3 296.7 1028.0C299.1 1034.7 301.0 1036.9 305.0 1036.7C309.0 1036.5 318.0 1029.4 321.7 1026.7C325.4 1024.0 325.9 1017.4 328.3 1020.0C330.7 1022.6 334.3 1033.7 336.7 1043.0C339.1 1052.3 340.6 1065.7 343.3 1078.0C346.0 1090.3 350.1 1114.1 353.3 1120.0C356.5 1125.9 360.4 1114.5 363.3 1115.0C366.2 1115.5 369.0 1116.9 371.7 1123.0C374.4 1129.1 377.1 1141.8 380.0 1153.0C382.9 1164.2 387.3 1185.5 390.0 1193.0C392.7 1200.5 394.6 1200.5 396.7 1200.0C398.8 1199.5 400.6 1189.5 403.3 1190.0C406.0 1190.5 410.1 1198.2 413.3 1203.0C416.5 1207.8 420.6 1215.2 423.3 1220.0C426.0 1224.8 427.3 1235.1 430.0 1233.0C432.7 1230.9 437.3 1210.7 440.0 1206.7C442.7 1202.7 444.6 1207.0 446.7 1208.0C448.8 1209.0 451.5 1218.3 453.3 1213.0C455.1 1207.7 456.4 1181.4 458.0 1175.0C459.6 1168.6 461.1 1171.7 463.0 1173.0C464.9 1174.3 467.6 1180.3 470.0 1183.0C472.4 1185.7 475.1 1190.5 478.0 1190.0C480.9 1189.5 484.5 1181.1 488.0 1180.0C491.5 1178.9 496.5 1181.9 500.0 1183.0C503.5 1184.1 506.8 1182.9 510.0 1186.7C513.2 1190.5 517.1 1202.2 520.0 1206.7C522.9 1211.2 525.3 1215.6 528.0 1215.0C530.7 1214.4 534.3 1207.0 536.7 1203.0C539.1 1199.0 540.4 1193.7 543.0 1190.0C545.6 1186.3 549.8 1184.3 553.0 1180.0C556.2 1175.7 560.3 1164.3 563.0 1163.0C565.7 1161.7 567.8 1168.2 570.0 1171.7C572.2 1175.2 574.6 1181.8 576.7 1185.0C578.8 1188.2 580.6 1193.0 583.0 1191.7C585.4 1190.4 589.0 1180.5 591.7 1176.7C594.4 1172.9 597.4 1171.8 600.0 1168.0C602.6 1164.2 605.3 1155.9 608.0 1153.0C610.7 1150.1 614.8 1150.0 616.7 1150.0C618.6 1150.0 617.4 1151.1 620.0 1153.0C622.6 1154.9 629.0 1160.9 633.0 1161.7C637.0 1162.5 640.7 1158.6 645.0 1158.0C649.3 1157.4 656.0 1162.0 660.0 1158.0C664.0 1154.0 667.1 1135.1 670.0 1133.0C672.9 1130.9 674.8 1142.0 678.0 1145.0C681.2 1148.0 687.0 1149.6 690.0 1151.7C693.0 1153.8 694.0 1158.3 696.7 1158.0C699.4 1157.7 703.0 1155.0 706.7 1150.0C710.4 1145.0 715.8 1132.6 720.0 1126.7C724.2 1120.8 729.8 1116.0 733.0 1113.0C736.2 1110.0 737.8 1106.4 740.0 1108.0C742.2 1109.6 743.2 1120.0 746.7 1123.0C750.2 1126.0 757.5 1126.1 761.7 1126.7C765.9 1127.3 769.0 1124.6 773.0 1126.7C777.0 1128.8 782.9 1136.1 786.7 1140.0C790.5 1143.9 794.2 1145.7 797.0 1151.0C799.8 1156.3 801.8 1167.3 804.0 1173.0C806.2 1178.7 807.5 1184.1 810.7 1186.5C813.9 1188.9 819.1 1183.6 824.3 1188.0C829.5 1192.4 838.9 1208.8 843.0 1213.7C847.1 1218.6 847.9 1212.6 849.8 1218.8C851.7 1225.0 852.9 1241.3 854.8 1252.7C856.7 1264.1 858.9 1280.5 861.6 1290.0C864.3 1299.5 868.5 1301.7 871.8 1312.0C875.1 1322.3 878.7 1343.6 882.0 1354.5C885.3 1365.4 888.7 1369.1 892.2 1380.0C895.7 1390.9 902.1 1415.6 904.0 1422.4" stroke="#a83cc0" stroke-width="1.5" fill="none" stroke-linejoin="round"/>
</g>
<g clip-path="url(#cv)">
<path d="M2.5 1849.5V1839.2M5.3 1849.5V1838.6M11.0 1849.5V1840.0M16.6 1849.5V1839.3M19.5 1849.5V1845.8M25.1 1849.5V1836.7M28.0 1849.5V1841.7M30.8 1849.5V1841.4M33.6 1849.5V1841.1M36.5 1849.5V1841.0M39.3 1849.5V1845.7M42.1 1849.5V1809.5M45.0 1849.5V1835.5M47.8 1849.5V1792.5M50.6 1849.5V1843.9M53.4 1849.5V1844.2M59.1 1849.5V1843.5M61.9 1849.5V1836.7M64.8 1849.5V1845.3M67.6 1849.5V1822.5M70.4 1849.5V1844.7M73.2 1849.5V1837.8M76.1 1849.5V1843.7M84.6 1849.5V1839.0M90.2 1849.5V1837.1M101.5 1849.5V1844.7M107.2 1849.5V1839.4M112.9 1849.5V1842.0M115.7 1849.5V1843.8M118.5 1849.5V1840.2M121.4 1849.5V1796.5M124.2 1849.5V1843.5M127.0 1849.5V1837.3M129.9 1849.5V1833.0M135.5 1849.5V1837.3M138.3 1849.5V1834.5M141.2 1849.5V1806.5M149.7 1849.5V1830.8M152.5 1849.5V1839.6M155.3 1849.5V1816.5M158.2 1849.5V1839.0M163.8 1849.5V1837.2M172.3 1849.5V1832.6M175.1 1849.5V1839.8M178.0 1849.5V1841.2M180.8 1849.5V1791.5M183.6 1849.5V1839.6M186.5 1849.5V1620.5M203.4 1849.5V1798.5M209.1 1849.5V1809.5M217.6 1849.5V1805.5M220.4 1849.5V1805.5M226.1 1849.5V1717.5M231.7 1849.5V1794.5M234.6 1849.5V1821.4M237.4 1849.5V1840.4M240.2 1849.5V1830.2M243.1 1849.5V1818.3M254.4 1849.5V1827.2M257.2 1849.5V1834.0M260.0 1849.5V1829.9M262.9 1849.5V1843.3M265.7 1849.5V1838.0M268.5 1849.5V1836.9M274.2 1849.5V1842.4M277.0 1849.5V1828.5M288.3 1849.5V1831.5M294.0 1849.5V1801.5M308.1 1849.5V1836.8M311.0 1849.5V1809.5M319.5 1849.5V1833.1M327.9 1849.5V1839.0M333.6 1849.5V1832.7M347.8 1849.5V1793.5M353.4 1849.5V1832.6M359.1 1849.5V1842.3M361.9 1849.5V1839.7M376.1 1849.5V1842.0M378.9 1849.5V1817.5M395.9 1849.5V1834.4M401.5 1849.5V1838.3M404.4 1849.5V1837.2M410.0 1849.5V1836.3M412.9 1849.5V1839.8M421.3 1849.5V1839.7M432.7 1849.5V1839.1M435.5 1849.5V1840.8M441.2 1849.5V1844.9M444.0 1849.5V1841.2M446.8 1849.5V1834.1M449.6 1849.5V1842.6M455.3 1849.5V1826.5M458.1 1849.5V1839.4M461.0 1849.5V1842.1M463.8 1849.5V1832.1M472.3 1849.5V1843.5M480.8 1849.5V1829.5M483.6 1849.5V1840.1M489.3 1849.5V1840.8M494.9 1849.5V1836.0M497.8 1849.5V1844.0M503.4 1849.5V1832.6M506.2 1849.5V1835.9M509.1 1849.5V1843.6M520.4 1849.5V1828.5M523.2 1849.5V1837.7M526.1 1849.5V1834.3M528.9 1849.5V1834.7M534.5 1849.5V1835.9M537.4 1849.5V1835.8M540.2 1849.5V1835.6M543.0 1849.5V1844.9M554.4 1849.5V1846.9M557.2 1849.5V1842.3M560.0 1849.5V1847.4M562.8 1849.5V1843.0M568.5 1849.5V1837.5M582.6 1849.5V1842.9M585.5 1849.5V1842.3M594.0 1849.5V1845.1M596.8 1849.5V1845.0M599.6 1849.5V1843.3M605.3 1849.5V1845.5M611.0 1849.5V1845.5M616.6 1849.5V1842.9M625.1 1849.5V1845.1M633.6 1849.5V1837.5M636.4 1849.5V1837.5M642.1 1849.5V1844.3M644.9 1849.5V1844.3M659.1 1849.5V1842.5M661.9 1849.5V1839.5M664.7 1849.5V1841.7M667.6 1849.5V1846.5M673.2 1849.5V1842.0M676.0 1849.5V1847.4M687.4 1849.5V1842.0M690.2 1849.5V1843.0M698.7 1849.5V1844.7M701.5 1849.5V1844.7M707.2 1849.5V1845.5M710.0 1849.5V1845.7M712.8 1849.5V1844.2M718.5 1849.5V1841.8M721.3 1849.5V1843.6M729.8 1849.5V1845.6M735.5 1849.5V1844.4M738.3 1849.5V1844.3M741.1 1849.5V1842.3M755.3 1849.5V1841.4M760.9 1849.5V1844.6M763.8 1849.5V1842.7M769.4 1849.5V1845.9M772.3 1849.5V1838.9M786.4 1849.5V1835.5M789.2 1849.5V1841.6M803.4 1849.5V1831.5M809.1 1849.5V1844.9M817.5 1849.5V1845.6M820.4 1849.5V1845.7M826.0 1849.5V1829.5M828.9 1849.5V1842.3M834.5 1849.5V1838.8M837.4 1849.5V1815.5M845.8 1849.5V1840.5M848.7 1849.5V1835.2M851.5 1849.5V1764.5M860.0 1849.5V1844.9M871.3 1849.5V1836.9M877.0 1849.5V1809.5M882.6 1849.5V1838.6M885.5 1849.5V1818.5M896.8 1849.5V1818.5" stroke="#c8283a" stroke-width="2.6" fill="none" opacity="0.92"/>
<path d="M8.2 1849.5V1843.9M13.8 1849.5V1843.2M22.3 1849.5V1837.7M56.3 1849.5V1844.9M78.9 1849.5V1845.2M81.7 1849.5V1838.8M87.4 1849.5V1839.6M93.1 1849.5V1844.3M95.9 1849.5V1834.4M98.7 1849.5V1836.5M104.4 1849.5V1843.9M110.0 1849.5V1839.2M132.7 1849.5V1843.2M144.0 1849.5V1842.8M146.8 1849.5V1832.9M161.0 1849.5V1832.0M166.6 1849.5V1839.1M169.5 1849.5V1829.8M189.3 1849.5V1779.5M192.1 1849.5V1757.5M194.9 1849.5V1782.5M197.8 1849.5V1789.5M200.6 1849.5V1799.5M206.3 1849.5V1832.2M211.9 1849.5V1817.6M214.8 1849.5V1822.6M223.2 1849.5V1819.6M228.9 1849.5V1822.3M245.9 1849.5V1819.0M248.7 1849.5V1836.6M251.5 1849.5V1832.6M271.4 1849.5V1843.7M279.8 1849.5V1832.1M282.7 1849.5V1829.1M285.5 1849.5V1834.7M291.2 1849.5V1830.1M296.8 1849.5V1830.1M299.7 1849.5V1843.6M302.5 1849.5V1837.3M305.3 1849.5V1842.3M313.8 1849.5V1842.2M316.6 1849.5V1838.7M322.3 1849.5V1837.6M325.1 1849.5V1842.5M330.8 1849.5V1840.2M336.4 1849.5V1842.0M339.3 1849.5V1841.8M342.1 1849.5V1837.2M344.9 1849.5V1843.9M350.6 1849.5V1838.0M356.2 1849.5V1839.1M364.7 1849.5V1838.8M367.6 1849.5V1843.6M370.4 1849.5V1843.9M373.2 1849.5V1843.8M381.7 1849.5V1840.5M384.6 1849.5V1842.0M387.4 1849.5V1842.6M390.2 1849.5V1844.2M393.0 1849.5V1838.7M398.7 1849.5V1837.8M407.2 1849.5V1843.1M415.7 1849.5V1838.6M418.5 1849.5V1837.7M424.2 1849.5V1841.8M427.0 1849.5V1842.6M429.8 1849.5V1842.8M438.3 1849.5V1838.1M452.5 1849.5V1838.5M466.6 1849.5V1841.9M469.4 1849.5V1835.4M475.1 1849.5V1844.4M477.9 1849.5V1833.9M486.4 1849.5V1844.5M492.1 1849.5V1840.1M500.6 1849.5V1842.8M511.9 1849.5V1841.4M514.7 1849.5V1841.2M517.6 1849.5V1836.8M531.7 1849.5V1839.0M545.9 1849.5V1842.9M548.7 1849.5V1843.4M551.5 1849.5V1842.0M565.7 1849.5V1844.2M571.3 1849.5V1844.8M574.2 1849.5V1841.7M577.0 1849.5V1844.3M579.8 1849.5V1845.3M588.3 1849.5V1844.1M591.1 1849.5V1845.5M602.5 1849.5V1846.0M608.1 1849.5V1844.4M613.8 1849.5V1845.9M619.4 1849.5V1842.5M622.3 1849.5V1844.8M627.9 1849.5V1846.6M630.8 1849.5V1846.0M639.2 1849.5V1846.8M647.7 1849.5V1847.1M650.6 1849.5V1842.0M653.4 1849.5V1845.8M656.2 1849.5V1842.5M670.4 1849.5V1845.2M678.9 1849.5V1847.2M681.7 1849.5V1844.4M684.5 1849.5V1844.8M693.0 1849.5V1844.5M695.9 1849.5V1841.4M704.3 1849.5V1843.6M715.7 1849.5V1845.7M724.1 1849.5V1844.6M727.0 1849.5V1847.0M732.6 1849.5V1845.4M744.0 1849.5V1841.7M746.8 1849.5V1844.9M749.6 1849.5V1845.2M752.5 1849.5V1844.0M758.1 1849.5V1845.7M766.6 1849.5V1846.7M775.1 1849.5V1840.3M777.9 1849.5V1843.1M780.8 1849.5V1846.1M783.6 1849.5V1839.7M792.1 1849.5V1840.4M794.9 1849.5V1838.8M797.7 1849.5V1839.8M800.6 1849.5V1843.9M806.2 1849.5V1845.8M811.9 1849.5V1843.1M814.7 1849.5V1843.2M823.2 1849.5V1842.1M831.7 1849.5V1844.4M840.2 1849.5V1842.0M843.0 1849.5V1844.7M854.3 1849.5V1841.8M857.2 1849.5V1836.6M862.8 1849.5V1841.8M865.6 1849.5V1834.4M868.5 1849.5V1838.1M874.1 1849.5V1843.1M879.8 1849.5V1839.3M888.3 1849.5V1842.3M891.1 1849.5V1837.2M894.0 1849.5V1838.9M899.6 1849.5V1832.0M902.4 1849.5V1838.3" stroke="#2d62c4" stroke-width="2.6" fill="none" opacity="0.92"/>
<path d="M0.0 1847.5L180.0 1835.0L190.0 1831.0L220.0 1831.0L270.0 1829.0L350.0 1825.0L450.0 1825.0L500.0 1826.6L522.8 1827.3L538.0 1831.0L576.0 1834.0L652.0 1838.0L765.8 1842.5L841.7 1841.7L904.0 1838.0" stroke="#6e6e6e" stroke-width="2" fill="none" stroke-linejoin="round"/>
<path d="M0.0 1847.5L180.0 1832.5L200.0 1824.0L250.0 1820.0L350.0 1818.5L380.0 1825.0L450.0 1827.5L500.0 1833.0L576.0 1840.6L652.0 1842.5L765.8 1843.3L841.7 1841.7L904.0 1839.5" stroke="#1f8a3c" stroke-width="2" fill="none" stroke-linejoin="round"/>
<path d="M0.0 1847.5L50.0 1840.0L75.0 1832.5L125.0 1835.0L180.0 1831.0L190.0 1820.0L210.0 1805.0L230.0 1795.0L240.0 1797.5L260.0 1815.0L280.0 1825.0L350.0 1831.0L400.0 1832.5L450.0 1834.0L500.0 1838.7L576.0 1841.7L690.0 1844.4L841.7 1842.5L853.0 1835.0L864.5 1833.0L879.6 1831.0L904.0 1828.0" stroke="#e9b82a" stroke-width="2" fill="none" stroke-linejoin="round"/>
<path d="M0.0 1847.5L40.0 1834.0L50.0 1820.0L60.0 1832.5L100.0 1835.0L130.0 1834.0L145.0 1827.5L165.0 1834.0L182.5 1832.5L187.5 1757.5L197.5 1747.5L205.0 1795.0L220.0 1820.0L230.0 1797.5L237.5 1797.5L245.0 1830.0L280.0 1840.0L290.0 1817.5L300.0 1817.5L320.0 1840.0L350.0 1829.0L360.0 1840.0L400.0 1837.5L450.0 1842.5L500.0 1835.0L522.0 1836.0L538.0 1846.0L600.0 1844.0L765.8 1844.4L803.7 1839.5L820.0 1843.0L841.7 1840.6L849.3 1839.5L855.0 1816.0L860.7 1812.0L868.3 1835.0L883.4 1829.0L894.8 1831.0L904.0 1833.0" stroke="#b23cc2" stroke-width="2" fill="none" stroke-linejoin="round"/>
</g>
</svg>
<!-- chart overlays -->
<div class="a t k" style="left:13px;top:643px;font-size:30.5px;font-weight:700;color:#c13cb4;letter-spacing:-1.5px">종가</div><div class="a t k" style="left:77px;top:643px;font-size:30.5px;font-weight:700;color:#c13cb4;letter-spacing:-1.5px">단순</div><div class="a t" style="left:142px;top:645px;font-size:32px;font-weight:700;letter-spacing:1px;color:#c13cb4">5</div><div class="a t" style="left:174px;top:645px;font-size:32px;font-weight:700;letter-spacing:1px;color:#1c9fc6">10</div><div class="a t" style="left:220px;top:645px;font-size:32px;font-weight:700;letter-spacing:1px;color:#e6b52a">20</div><div class="a t" style="left:266px;top:645px;font-size:32px;font-weight:700;letter-spacing:1px;color:#1d8a3e">60</div><div class="a t" style="left:315px;top:645px;font-size:32px;font-weight:700;letter-spacing:1px;color:#777">120</div>
<div class="a" style="left:14px;top:687px;width:71px;height:71px;border-radius:12px;background:rgba(244,244,244,0.6)"></div>
<svg class="a" style="left:0;top:680px" width="100" height="90"><g stroke="#8c8c8c" fill="none" stroke-linecap="round"><circle cx="46.8" cy="39.4" r="17.2" stroke-width="4.6"/><path d="M64 55.6L72.2 63.9M47.2 32V46.8M39.8 39.4H54.6" stroke-width="5"/></g></svg>
<div class="a" style="left:14px;top:1397px;width:71px;height:71px;border-radius:12px;background:rgba(244,244,244,0.6)"></div>
<svg class="a" style="left:0;top:1390px" width="100" height="90"><g stroke="#8c8c8c" fill="none" stroke-linecap="round"><circle cx="46.8" cy="39.4" r="17.2" stroke-width="4.6"/><path d="M64 56L72.2 64.4M39.8 39.4H54.2" stroke-width="5"/></g></svg>
<div class="a" style="left:912px;top:630px;width:159px;height:46px;border:1.5px solid #222;background:#fff"></div>
<div class="a t" style="left:912px;top:633px;width:159px;text-align:center;font-size:39px;color:#333;-webkit-text-stroke:0.9px #333">319</div>
<div class="a t" style="right:8px;top:701px;font-size:37.5px;color:#111;-webkit-text-stroke:0.9px #111">318,500</div>
<div class="a t" style="right:8px;top:885px;font-size:37.5px;color:#111;-webkit-text-stroke:0.9px #111">310,750</div>
<div class="a t" style="right:8px;top:1069px;font-size:37.5px;color:#111;-webkit-text-stroke:0.9px #111">303,000</div>
<div class="a t" style="right:8px;top:1253px;font-size:37.5px;color:#111;-webkit-text-stroke:0.9px #111">295,250</div>
<!-- max annotation -->
<svg class="a" style="left:185px;top:715px" width="60" height="24"><path d="M5 12H55" stroke="#c8302a" stroke-width="1.6"/><path d="M5 12L15 7V17Z" fill="#c8302a"/></svg>
<div class="a t" style="left:249px;top:710px;font-size:36px;font-weight:700;color:#c6301f;letter-spacing:0.8px"><span class="k" style="font-size:32px;letter-spacing:-1px">최고</span> 318,500(−9.58%,09:01)</div>
<!-- min annotation -->
<div class="a t" style="left:402px;top:1432px;font-size:36px;font-weight:700;color:#2a5db0;letter-spacing:0.8px"><span class="k" style="font-size:32px;letter-spacing:-1px">최저</span> 287,500(0.17%,13:13)</div>
<svg class="a" style="left:848px;top:1438px" width="60" height="20"><path d="M2 10H50" stroke="#2a5db0" stroke-width="1.4"/><path d="M54 10L44 5V15Z" fill="#2a5db0"/></svg>
<!-- S marker -->
<svg class="a" style="left:824px;top:1171px" width="40" height="46"><path d="M2.4 2.1H36V32.9L19.9 43L2.4 32.9Z" fill="#f6fbff" stroke="#2a5aa8" stroke-width="2.4" stroke-linejoin="miter"/><text x="19.9" y="30.4" text-anchor="middle" font-family="Liberation Sans, sans-serif" font-size="33" fill="#2a5aa8" stroke="#2a5aa8" stroke-width="0.5">S</text></svg>
<!-- current price label -->
<svg class="a" style="left:903px;top:1400px" width="177" height="86"><path d="M20 0H175V86H20L2 43Z" fill="#1a61c6"/></svg>
<div class="a t" style="right:11px;top:1403px;font-size:37px;color:#fff;-webkit-text-stroke:0.6px #fff">288,000</div>
<div class="a t" style="right:11px;top:1446px;font-size:37px;color:#fff;-webkit-text-stroke:0.6px #fff;letter-spacing:0.3px">−0.17%</div>
<!-- time axis -->
<div class="a t" style="left:123px;top:1504px;font-size:36px;color:#111;-webkit-text-stroke:1.3px #111;letter-spacing:1.6px">01/22 09:14</div>
<div class="a t" style="left:350px;top:1504px;font-size:36px;color:#111;-webkit-text-stroke:1.3px #111;letter-spacing:1.6px">01/22 10:34</div>
<div class="a t" style="left:577px;top:1504px;font-size:36px;color:#111;-webkit-text-stroke:1.3px #111;letter-spacing:1.6px">01/22 11:54</div>
<div class="a t" style="left:862px;top:1504px;font-size:36px;color:#111;-webkit-text-stroke:1.3px #111;letter-spacing:1px">13:13</div>
<div class="a" style="left:1021px;top:1491px;width:59px;height:57px;border-left:1px solid #ddd;background:#f4f4f4"></div>
<svg class="a" style="left:1034px;top:1498px" width="30" height="44"><path d="M3 17.5L14.2 3L25.5 17.5Z" fill="#a8a8a8"/><path d="M3 25L14.2 39.8L25.5 25Z" fill="#a8a8a8"/></svg>
<!-- volume overlays -->
<div class="a t k" style="left:13px;top:1570px;font-size:30px;font-weight:700;color:#3b9a9c;letter-spacing:-1px">거래량</div><div class="a t k" style="left:107px;top:1570px;font-size:30.5px;font-weight:700;color:#c13cb4;letter-spacing:-1.5px">단순</div><div class="a t" style="left:173px;top:1571px;font-size:32px;font-weight:700;letter-spacing:1px;color:#c13cb4">5</div><div class="a t" style="left:200px;top:1571px;font-size:32px;font-weight:700;letter-spacing:1px;color:#e6b52a">20</div><div class="a t" style="left:247px;top:1571px;font-size:32px;font-weight:700;letter-spacing:1px;color:#1d8a3e">60</div><div class="a t" style="left:297px;top:1571px;font-size:32px;font-weight:700;letter-spacing:1px;color:#777">120</div>
<div class="a" style="left:14px;top:1605px;width:71px;height:71px;border-radius:12px;background:rgba(244,244,244,0.6)"></div>
<svg class="a" style="left:0;top:1598px" width="100" height="90"><path d="M32.4 26L68.5 61M68.5 26L32.4 61" stroke="#8c8c8c" stroke-width="3.8" stroke-linecap="round"/></svg>
<div class="a t" style="right:8px;top:1601px;font-size:37.5px;color:#111;-webkit-text-stroke:0.9px #111">34,212</div>
<div class="a t" style="right:8px;top:1658px;font-size:37.5px;color:#111;-webkit-text-stroke:0.9px #111">25,659</div>
<div class="a t" style="right:8px;top:1716px;font-size:37.5px;color:#111;-webkit-text-stroke:0.9px #111">17,106</div>
<div class="a t" style="right:8px;top:1773px;font-size:37.5px;color:#111;-webkit-text-stroke:0.9px #111">8,553</div>
<div class="a" style="left:905px;top:1814px;width:173px;height:42px;background:#3a9a9c"></div>
<div class="a t" style="right:10px;top:1815px;font-size:37px;color:#fff;-webkit-text-stroke:0.9px #fff">434</div>
<!-- index bar -->
<div class="a" style="left:0;top:1857px;width:1080px;height:84px;background:#f8f8fa;border-radius:22px 22px 0 0;border-top:1px solid #e4e4ea;border-bottom:1.5px solid #c8c8cc"></div>
<div class="a" style="left:18px;top:1870px;width:130px;height:59px;border-radius:30px;background:linear-gradient(90deg,#3f86ea,#7d48dc)"></div>
<div class="a" style="left:24px;top:1875px;width:48px;height:48px;border-radius:50%;background:#fff"></div>
<svg class="a" style="left:24px;top:1875px" width="48" height="48"><path d="M12 31L20 23L26 28L35 18M28 17H36V25" stroke="#3f86ea" stroke-width="3.4" fill="none" stroke-linecap="round" stroke-linejoin="round"/></svg>
<div class="a t k" style="left:84px;top:1884px;font-size:27px;font-weight:700;color:#eef0fa">지수</div>
<div class="a t k" style="left:172px;top:1882px;font-size:34px;font-weight:500;color:#333">코스닥</div>
<div class="a t" style="left:515px;top:1882px;font-size:35px;color:#bf3d7b;letter-spacing:1.7px">966.16</div>
<svg class="a" style="left:703px;top:1891px" width="20" height="16"><path d="M1 14L10 3L19 14Z" fill="#bf3d7b"/></svg>
<div class="a t" style="left:742px;top:1882px;font-size:35px;color:#bf3d7b">14.87</div>
<div class="a t" style="left:948px;top:1882px;font-size:35px;color:#bf3d7b">1.56%</div>
<!-- bottom nav -->
<div class="a" style="left:18px;top:1960px;width:143px;height:143px;border-radius:12px;background:#b23a6a"></div>
<svg class="a" style="left:18px;top:1960px" width="143" height="143"><path d="M43 31H101M43 51.5H101M43 71H101" stroke="#fff" stroke-width="4.5" stroke-linecap="round"/></svg>
<div class="a t k" style="left:18px;top:2043px;width:143px;text-align:center;font-size:28px;font-weight:700;color:#fff;letter-spacing:3px">메뉴</div>
<div class="a t k" style="left:236px;top:2013px;font-size:40px;font-weight:500;color:#999">커뮤니티</div>
<div class="a t k" style="left:449px;top:2013px;font-size:40px;font-weight:700;color:#2a2a2a">자동일지</div>
<div class="a t k" style="left:666px;top:2013px;font-size:40px;font-weight:500;color:#999">ETF분석</div>
<div class="a t k" style="left:887px;top:2013px;font-size:40px;font-weight:500;color:#999">캐치(모의)</div>
<!-- left edge handle -->
<svg class="a" style="left:0;top:316px" width="30" height="150"><path d="M0 1L22 7Q26 8 26 13V136Q26 141 22 142L0 148Z" fill="#e4e4e4" stroke="#cfcfcf" stroke-width="1"/><path d="M11 54V100" stroke="#aaa" stroke-width="3" stroke-linecap="round"/></svg>
<!-- red scribble -->
<svg class="a" style="left:0;top:0" width="480" height="470"><path d="M178 410C175 386 232 372 300 379C345 384 380 394 400 405C412 411 412 420 400 425C370 436 330 446 270 451C220 454 180 446 178 410Z" fill="#f43a38"/><g stroke="#f43a38" stroke-width="4.5" fill="none" stroke-linecap="round">
<path d="M183 398C198 372 282 356 312 368C322 376 320 388 306 391"/><path d="M300 385C340 379 392 381 402 398"/><path d="M392 404C420 404 456 409 456 417C456 426 420 426 390 421"/><path d="M180 430C198 455 300 456 362 441"/><path d="M176 417C178 392 240 379 330 389"/><path d="M190 385C230 368 270 362 300 366"/></g></svg>
<!-- overlay picture -->
<svg class="a" style="left:990px;top:46px" width="90" height="340"><defs><clipPath id="ov"><path d="M20 0H90V339H26Q0 339 0 313V20Q0 0 20 0Z"/></clipPath><linearGradient id="og" x1="0" y1="0" x2="0" y2="1"><stop offset="0" stop-color="#6d5416"/><stop offset="0.55" stop-color="#5e4713"/><stop offset="0.85" stop-color="#33270a"/><stop offset="1" stop-color="#141008"/></linearGradient></defs>
<g clip-path="url(#ov)"><rect width="90" height="340" fill="url(#og)"/>
<rect x="35.5" y="27" width="55" height="191" fill="#6c5114"/>
<rect x="13" y="7" width="77" height="21" fill="#16120a"/><rect x="13" y="7" width="22.5" height="211" fill="#16120a"/>
<path d="M35.5 28V218M13 7H90" stroke="#5a4820" stroke-width="2"/>
<g stroke="#8a7346" stroke-width="3.2" fill="none"><path d="M24 75C16 85 30 95 24 105C16 115 30 125 24 135C16 145 30 155 24 165C16 175 30 185 24 195C16 205 30 212 24 218"/><path d="M42 18C50 10 60 24 70 17C78 10 86 22 92 17"/><path d="M17 20C20 12 30 14 28 22"/></g>
<path d="M22 8L27 2L30 9ZM58 8L62 1L64 10Z" fill="#9a9a90"/>
<ellipse cx="41" cy="13" rx="14" ry="9" fill="#686c76"/>
<ellipse cx="35" cy="21" rx="4" ry="3" fill="#6a8a50"/><ellipse cx="47" cy="21" rx="4" ry="3" fill="#6a8a50"/>
<path d="M30 27H52L41 50Z" fill="#6a1515"/>
<circle cx="28" cy="57" r="12.5" fill="#6b5632"/><circle cx="57.5" cy="57" r="14" fill="#6b5632"/>
<text x="18" y="60" font-family="Liberation Sans, sans-serif" font-size="8" font-weight="700" fill="#d0d0d0">BUY</text><text x="45" y="60" font-family="Liberation Sans, sans-serif" font-size="8" font-weight="700" fill="#d0d0d0">KING</text>
<ellipse cx="78" cy="98" rx="20" ry="22" fill="#5d6a22"/><path d="M60 112Q75 124 90 116V122H60Z" fill="#5a4218"/>
<text x="59" y="146" font-family="Liberation Sans, sans-serif" font-size="30" font-weight="700" fill="#1e4ea0">TA</text>
<path d="M84 162H90V212H79Z" fill="#1b4cb0"/>
<rect x="13" y="217.6" width="77" height="36.5" fill="#828288"/><rect x="13" y="254" width="77" height="7.3" fill="#4a3a12"/><rect x="13" y="261.3" width="77" height="36.3" fill="#828288"/>
<rect x="13" y="297.6" width="77" height="6" fill="#1e180c"/>
<text x="18" y="248" font-family="Noto Sans CJK KR, sans-serif" font-size="33" font-weight="900" fill="#7e1414" letter-spacing="2">그린</text>
<text x="18" y="292" font-family="Noto Sans CJK KR, sans-serif" font-size="33" font-weight="900" fill="#7e1414" letter-spacing="2">트럼</text>
</g></svg>

</body></html>
